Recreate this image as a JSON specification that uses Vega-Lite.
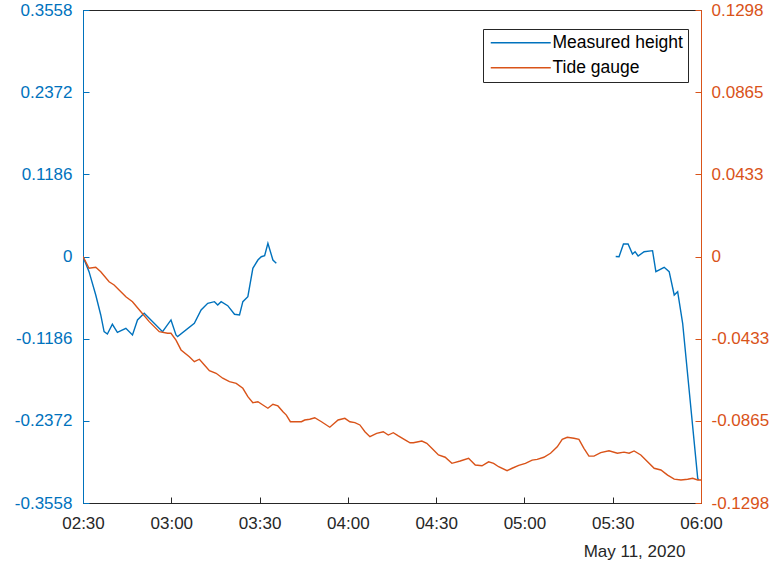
{
  "$schema": "https://vega.github.io/schema/vega-lite/v6.json",
  "autosize": {"type": "none"},
  "width": 618,
  "height": 493,
  "padding": {"left": 83, "top": 10, "right": 78, "bottom": 62},
  "background": "white",
  "config": {
    "font": "Liberation Sans",
    "locale": {"number": {"decimal": ".", "thousands": ",", "grouping": [3], "currency": ["$", ""], "minus": "-"}},
    "view": {"stroke": "#262626", "strokeWidth": 1},
    "axis": {"labelFontSize": 17, "titleFontSize": 17, "titleFontWeight": "normal", "grid": false, "labelFlush": false, "labelOverlap": false, "domainWidth": 1, "ticks": true, "tickWidth": 1, "zindex": 1}
  },
  "datasets": {
    "measured": [
      {"t": "2020-05-11T02:30:00", "v": 0.0, "series": "Measured height", "seg": 1},
      {"t": "2020-05-11T02:32:03", "v": -0.0219, "series": "Measured height", "seg": 1},
      {"t": "2020-05-11T02:34:20", "v": -0.0556, "series": "Measured height", "seg": 1},
      {"t": "2020-05-11T02:36:02", "v": -0.0844, "series": "Measured height", "seg": 1},
      {"t": "2020-05-11T02:37:10", "v": -0.1085, "series": "Measured height", "seg": 1},
      {"t": "2020-05-11T02:38:17", "v": -0.1118, "series": "Measured height", "seg": 1},
      {"t": "2020-05-11T02:39:59", "v": -0.0978, "series": "Measured height", "seg": 1},
      {"t": "2020-05-11T02:41:41", "v": -0.1094, "series": "Measured height", "seg": 1},
      {"t": "2020-05-11T02:44:34", "v": -0.1036, "series": "Measured height", "seg": 1},
      {"t": "2020-05-11T02:46:49", "v": -0.1133, "series": "Measured height", "seg": 1},
      {"t": "2020-05-11T02:48:31", "v": -0.0916, "series": "Measured height", "seg": 1},
      {"t": "2020-05-11T02:50:48", "v": -0.0820, "series": "Measured height", "seg": 1},
      {"t": "2020-05-11T02:57:02", "v": -0.1085, "series": "Measured height", "seg": 1},
      {"t": "2020-05-11T02:59:54", "v": -0.0916, "series": "Measured height", "seg": 1},
      {"t": "2020-05-11T03:01:36", "v": -0.1133, "series": "Measured height", "seg": 1},
      {"t": "2020-05-11T03:02:09", "v": -0.1157, "series": "Measured height", "seg": 1},
      {"t": "2020-05-11T03:07:50", "v": -0.0964, "series": "Measured height", "seg": 1},
      {"t": "2020-05-11T03:10:08", "v": -0.0772, "series": "Measured height", "seg": 1},
      {"t": "2020-05-11T03:12:23", "v": -0.0675, "series": "Measured height", "seg": 1},
      {"t": "2020-05-11T03:14:40", "v": -0.0652, "series": "Measured height", "seg": 1},
      {"t": "2020-05-11T03:15:47", "v": -0.0700, "series": "Measured height", "seg": 1},
      {"t": "2020-05-11T03:16:56", "v": -0.0652, "series": "Measured height", "seg": 1},
      {"t": "2020-05-11T03:19:11", "v": -0.0710, "series": "Measured height", "seg": 1},
      {"t": "2020-05-11T03:21:29", "v": -0.0834, "series": "Measured height", "seg": 1},
      {"t": "2020-05-11T03:23:11", "v": -0.0844, "series": "Measured height", "seg": 1},
      {"t": "2020-05-11T03:24:19", "v": -0.0652, "series": "Measured height", "seg": 1},
      {"t": "2020-05-11T03:26:01", "v": -0.0580, "series": "Measured height", "seg": 1},
      {"t": "2020-05-11T03:27:43", "v": -0.0170, "series": "Measured height", "seg": 1},
      {"t": "2020-05-11T03:29:26", "v": -0.0051, "series": "Measured height", "seg": 1},
      {"t": "2020-05-11T03:30:35", "v": -0.0003, "series": "Measured height", "seg": 1},
      {"t": "2020-05-11T03:31:43", "v": 0.0012, "series": "Measured height", "seg": 1},
      {"t": "2020-05-11T03:32:50", "v": 0.0190, "series": "Measured height", "seg": 1},
      {"t": "2020-05-11T03:34:32", "v": -0.0051, "series": "Measured height", "seg": 1},
      {"t": "2020-05-11T03:35:41", "v": -0.0098, "series": "Measured height", "seg": 1},
      {"t": "2020-05-11T05:31:01", "v": 0.0000, "series": "Measured height", "seg": 2},
      {"t": "2020-05-11T05:32:09", "v": -0.0003, "series": "Measured height", "seg": 2},
      {"t": "2020-05-11T05:33:39", "v": 0.0180, "series": "Measured height", "seg": 2},
      {"t": "2020-05-11T05:35:13", "v": 0.0180, "series": "Measured height", "seg": 2},
      {"t": "2020-05-11T05:36:43", "v": 0.0036, "series": "Measured height", "seg": 2},
      {"t": "2020-05-11T05:37:36", "v": 0.0069, "series": "Measured height", "seg": 2},
      {"t": "2020-05-11T05:38:38", "v": 0.0007, "series": "Measured height", "seg": 2},
      {"t": "2020-05-11T05:40:40", "v": 0.0069, "series": "Measured height", "seg": 2},
      {"t": "2020-05-11T05:43:32", "v": 0.0084, "series": "Measured height", "seg": 2},
      {"t": "2020-05-11T05:44:40", "v": -0.0219, "series": "Measured height", "seg": 2},
      {"t": "2020-05-11T05:47:29", "v": -0.0156, "series": "Measured height", "seg": 2},
      {"t": "2020-05-11T05:49:11", "v": -0.0219, "series": "Measured height", "seg": 2},
      {"t": "2020-05-11T05:50:54", "v": -0.0556, "series": "Measured height", "seg": 2},
      {"t": "2020-05-11T05:52:04", "v": -0.0508, "series": "Measured height", "seg": 2},
      {"t": "2020-05-11T05:53:46", "v": -0.0964, "series": "Measured height", "seg": 2},
      {"t": "2020-05-11T05:58:53", "v": -0.3201, "series": "Measured height", "seg": 2},
      {"t": "2020-05-11T05:59:13", "v": -0.3225, "series": "Measured height", "seg": 2}
    ],
    "tide": [
      {"t": "2020-05-11T02:30:00", "v": 0.0, "series": "Tide gauge"},
      {"t": "2020-05-11T02:32:03", "v": -0.0062, "series": "Tide gauge"},
      {"t": "2020-05-11T02:34:20", "v": -0.0057, "series": "Tide gauge"},
      {"t": "2020-05-11T02:36:02", "v": -0.0080, "series": "Tide gauge"},
      {"t": "2020-05-11T02:38:52", "v": -0.0133, "series": "Tide gauge"},
      {"t": "2020-05-11T02:40:34", "v": -0.0150, "series": "Tide gauge"},
      {"t": "2020-05-11T02:42:16", "v": -0.0176, "series": "Tide gauge"},
      {"t": "2020-05-11T02:44:34", "v": -0.0212, "series": "Tide gauge"},
      {"t": "2020-05-11T02:46:49", "v": -0.0238, "series": "Tide gauge"},
      {"t": "2020-05-11T02:49:40", "v": -0.0291, "series": "Tide gauge"},
      {"t": "2020-05-11T02:52:30", "v": -0.0343, "series": "Tide gauge"},
      {"t": "2020-05-11T02:55:55", "v": -0.0396, "series": "Tide gauge"},
      {"t": "2020-05-11T02:58:44", "v": -0.0404, "series": "Tide gauge"},
      {"t": "2020-05-11T02:59:54", "v": -0.0404, "series": "Tide gauge"},
      {"t": "2020-05-11T03:01:36", "v": -0.0440, "series": "Tide gauge"},
      {"t": "2020-05-11T03:03:19", "v": -0.0492, "series": "Tide gauge"},
      {"t": "2020-05-11T03:06:08", "v": -0.0528, "series": "Tide gauge"},
      {"t": "2020-05-11T03:07:50", "v": -0.0554, "series": "Tide gauge"},
      {"t": "2020-05-11T03:09:33", "v": -0.0541, "series": "Tide gauge"},
      {"t": "2020-05-11T03:11:15", "v": -0.0571, "series": "Tide gauge"},
      {"t": "2020-05-11T03:12:57", "v": -0.0601, "series": "Tide gauge"},
      {"t": "2020-05-11T03:15:14", "v": -0.0615, "series": "Tide gauge"},
      {"t": "2020-05-11T03:17:29", "v": -0.0641, "series": "Tide gauge"},
      {"t": "2020-05-11T03:19:46", "v": -0.0659, "series": "Tide gauge"},
      {"t": "2020-05-11T03:22:04", "v": -0.0668, "series": "Tide gauge"},
      {"t": "2020-05-11T03:24:19", "v": -0.0694, "series": "Tide gauge"},
      {"t": "2020-05-11T03:26:01", "v": -0.0738, "series": "Tide gauge"},
      {"t": "2020-05-11T03:27:43", "v": -0.0770, "series": "Tide gauge"},
      {"t": "2020-05-11T03:29:26", "v": -0.0765, "series": "Tide gauge"},
      {"t": "2020-05-11T03:31:08", "v": -0.0782, "series": "Tide gauge"},
      {"t": "2020-05-11T03:32:50", "v": -0.0799, "series": "Tide gauge"},
      {"t": "2020-05-11T03:34:32", "v": -0.0778, "series": "Tide gauge"},
      {"t": "2020-05-11T03:36:14", "v": -0.0787, "series": "Tide gauge"},
      {"t": "2020-05-11T03:37:57", "v": -0.0817, "series": "Tide gauge"},
      {"t": "2020-05-11T03:39:06", "v": -0.0835, "series": "Tide gauge"},
      {"t": "2020-05-11T03:40:28", "v": -0.0870, "series": "Tide gauge"},
      {"t": "2020-05-11T03:44:13", "v": -0.0870, "series": "Tide gauge"},
      {"t": "2020-05-11T03:45:20", "v": -0.0861, "series": "Tide gauge"},
      {"t": "2020-05-11T03:47:03", "v": -0.0857, "series": "Tide gauge"},
      {"t": "2020-05-11T03:48:45", "v": -0.0849, "series": "Tide gauge"},
      {"t": "2020-05-11T03:51:02", "v": -0.0870, "series": "Tide gauge"},
      {"t": "2020-05-11T03:53:52", "v": -0.0899, "series": "Tide gauge"},
      {"t": "2020-05-11T03:56:41", "v": -0.0861, "series": "Tide gauge"},
      {"t": "2020-05-11T03:58:59", "v": -0.0852, "series": "Tide gauge"},
      {"t": "2020-05-11T04:00:41", "v": -0.0870, "series": "Tide gauge"},
      {"t": "2020-05-11T04:02:23", "v": -0.0875, "series": "Tide gauge"},
      {"t": "2020-05-11T04:04:05", "v": -0.0887, "series": "Tide gauge"},
      {"t": "2020-05-11T04:05:48", "v": -0.0923, "series": "Tide gauge"},
      {"t": "2020-05-11T04:07:30", "v": -0.0949, "series": "Tide gauge"},
      {"t": "2020-05-11T04:09:47", "v": -0.0931, "series": "Tide gauge"},
      {"t": "2020-05-11T04:12:02", "v": -0.0923, "series": "Tide gauge"},
      {"t": "2020-05-11T04:13:44", "v": -0.0940, "series": "Tide gauge"},
      {"t": "2020-05-11T04:15:26", "v": -0.0928, "series": "Tide gauge"},
      {"t": "2020-05-11T04:17:09", "v": -0.0945, "series": "Tide gauge"},
      {"t": "2020-05-11T04:19:26", "v": -0.0966, "series": "Tide gauge"},
      {"t": "2020-05-11T04:21:08", "v": -0.0981, "series": "Tide gauge"},
      {"t": "2020-05-11T04:22:16", "v": -0.0981, "series": "Tide gauge"},
      {"t": "2020-05-11T04:25:08", "v": -0.0972, "series": "Tide gauge"},
      {"t": "2020-05-11T04:26:50", "v": -0.0984, "series": "Tide gauge"},
      {"t": "2020-05-11T04:28:32", "v": -0.1010, "series": "Tide gauge"},
      {"t": "2020-05-11T04:30:47", "v": -0.1045, "series": "Tide gauge"},
      {"t": "2020-05-11T04:33:04", "v": -0.1057, "series": "Tide gauge"},
      {"t": "2020-05-11T04:35:21", "v": -0.1089, "series": "Tide gauge"},
      {"t": "2020-05-11T04:38:11", "v": -0.1077, "series": "Tide gauge"},
      {"t": "2020-05-11T04:41:01", "v": -0.1063, "series": "Tide gauge"},
      {"t": "2020-05-11T04:43:18", "v": -0.1098, "series": "Tide gauge"},
      {"t": "2020-05-11T04:45:35", "v": -0.1102, "series": "Tide gauge"},
      {"t": "2020-05-11T04:47:50", "v": -0.1081, "series": "Tide gauge"},
      {"t": "2020-05-11T04:49:32", "v": -0.1089, "series": "Tide gauge"},
      {"t": "2020-05-11T04:51:14", "v": -0.1107, "series": "Tide gauge"},
      {"t": "2020-05-11T04:54:06", "v": -0.1128, "series": "Tide gauge"},
      {"t": "2020-05-11T04:55:49", "v": -0.1115, "series": "Tide gauge"},
      {"t": "2020-05-11T04:58:04", "v": -0.1100, "series": "Tide gauge"},
      {"t": "2020-05-11T05:00:20", "v": -0.1089, "series": "Tide gauge"},
      {"t": "2020-05-11T05:02:38", "v": -0.1072, "series": "Tide gauge"},
      {"t": "2020-05-11T05:04:20", "v": -0.1068, "series": "Tide gauge"},
      {"t": "2020-05-11T05:06:35", "v": -0.1057, "series": "Tide gauge"},
      {"t": "2020-05-11T05:08:52", "v": -0.1036, "series": "Tide gauge"},
      {"t": "2020-05-11T05:11:09", "v": -0.1002, "series": "Tide gauge"},
      {"t": "2020-05-11T05:12:51", "v": -0.0963, "series": "Tide gauge"},
      {"t": "2020-05-11T05:14:34", "v": -0.0952, "series": "Tide gauge"},
      {"t": "2020-05-11T05:16:49", "v": -0.0957, "series": "Tide gauge"},
      {"t": "2020-05-11T05:18:31", "v": -0.0963, "series": "Tide gauge"},
      {"t": "2020-05-11T05:20:13", "v": -0.1010, "series": "Tide gauge"},
      {"t": "2020-05-11T05:21:55", "v": -0.1051, "series": "Tide gauge"},
      {"t": "2020-05-11T05:23:38", "v": -0.1051, "series": "Tide gauge"},
      {"t": "2020-05-11T05:25:55", "v": -0.1033, "series": "Tide gauge"},
      {"t": "2020-05-11T05:28:44", "v": -0.1023, "series": "Tide gauge"},
      {"t": "2020-05-11T05:31:36", "v": -0.1036, "series": "Tide gauge"},
      {"t": "2020-05-11T05:33:51", "v": -0.1030, "series": "Tide gauge"},
      {"t": "2020-05-11T05:35:34", "v": -0.1036, "series": "Tide gauge"},
      {"t": "2020-05-11T05:37:16", "v": -0.1024, "series": "Tide gauge"},
      {"t": "2020-05-11T05:39:33", "v": -0.1045, "series": "Tide gauge"},
      {"t": "2020-05-11T05:41:50", "v": -0.1081, "series": "Tide gauge"},
      {"t": "2020-05-11T05:44:05", "v": -0.1115, "series": "Tide gauge"},
      {"t": "2020-05-11T05:46:22", "v": -0.1124, "series": "Tide gauge"},
      {"t": "2020-05-11T05:48:39", "v": -0.1151, "series": "Tide gauge"},
      {"t": "2020-05-11T05:50:54", "v": -0.1172, "series": "Tide gauge"},
      {"t": "2020-05-11T05:53:11", "v": -0.1177, "series": "Tide gauge"},
      {"t": "2020-05-11T05:55:28", "v": -0.1173, "series": "Tide gauge"},
      {"t": "2020-05-11T05:57:10", "v": -0.1168, "series": "Tide gauge"},
      {"t": "2020-05-11T05:58:53", "v": -0.1177, "series": "Tide gauge"},
      {"t": "2020-05-11T06:00:00", "v": -0.1177, "series": "Tide gauge"}
    ]
  },
  "layer": [
    {
      "data": {"name": "measured"},
      "mark": {"type": "line", "strokeWidth": 1.4, "clip": true},
      "encoding": {
        "x": {
          "field": "t",
          "type": "temporal",
          "scale": {"nice": false},
          "axis": {
            "orient": "bottom",
            "format": "%H:%M",
            "tickCount": 7,
            "tickSize": -6,
            "labelPadding": 18,
            "labelBaseline": "top",
            "domainColor": "#262626",
            "tickColor": "#262626",
            "labelColor": "#262626",
            "title": "May 11, 2020",
            "titleColor": "#262626",
            "titleX": 551,
            "titleY": 53,
            "titleAlign": "center",
            "titleBaseline": "alphabetic"
          }
        },
        "color": {
          "field": "series",
          "type": "nominal",
          "scale": {"domain": ["Measured height", "Tide gauge"], "range": ["#0072BD", "#D95319"]},
          "legend": {
            "title": null,
            "orient": "none",
            "legendX": 400,
            "legendY": 19,
            "symbolType": "M-6,0H6",
            "symbolSize": 100,
            "symbolStrokeWidth": 1.4,
            "symbolOffset": 24,
            "labelFontSize": 17.5,
            "labelColor": "#000000",
            "labelOffset": 23,
            "rowPadding": 6,
            "padding": 5,
            "strokeColor": "#262626",
            "fillColor": "white",
            "cornerRadius": 0
          }
        },
        "detail": {"field": "seg", "type": "nominal"},
        "y": {
          "field": "v",
          "type": "quantitative",
          "scale": {"domain": [-0.3558, 0.3558], "nice": false, "zero": false},
          "axis": {
            "orient": "left",
            "title": null,
            "values": [-0.3558, -0.2372, -0.1186, 0, 0.1186, 0.2372, 0.3558],
            "format": ".4~f",
            "tickSize": -6,
            "labelPadding": 17,
            "domainColor": "#0072BD",
            "tickColor": "#0072BD",
            "labelColor": "#0072BD"
          }
        }
      }
    },
    {
      "data": {"name": "tide"},
      "mark": {"type": "line", "strokeWidth": 1.4, "clip": true},
      "encoding": {
        "x": {"field": "t", "type": "temporal"},
        "color": {"field": "series", "type": "nominal"},
        "y": {
          "field": "v",
          "type": "quantitative",
          "scale": {"domain": [-0.1298, 0.1298], "nice": false, "zero": false},
          "axis": {
            "orient": "right",
            "title": null,
            "values": [-0.1298, -0.08653, -0.04327, 0, 0.04327, 0.08653, 0.1298],
            "format": ".4~f",
            "tickSize": -6,
            "labelPadding": 16,
            "domainColor": "#D95319",
            "tickColor": "#D95319",
            "labelColor": "#D95319"
          }
        }
      }
    }
  ],
  "resolve": {"scale": {"y": "independent"}}
}
